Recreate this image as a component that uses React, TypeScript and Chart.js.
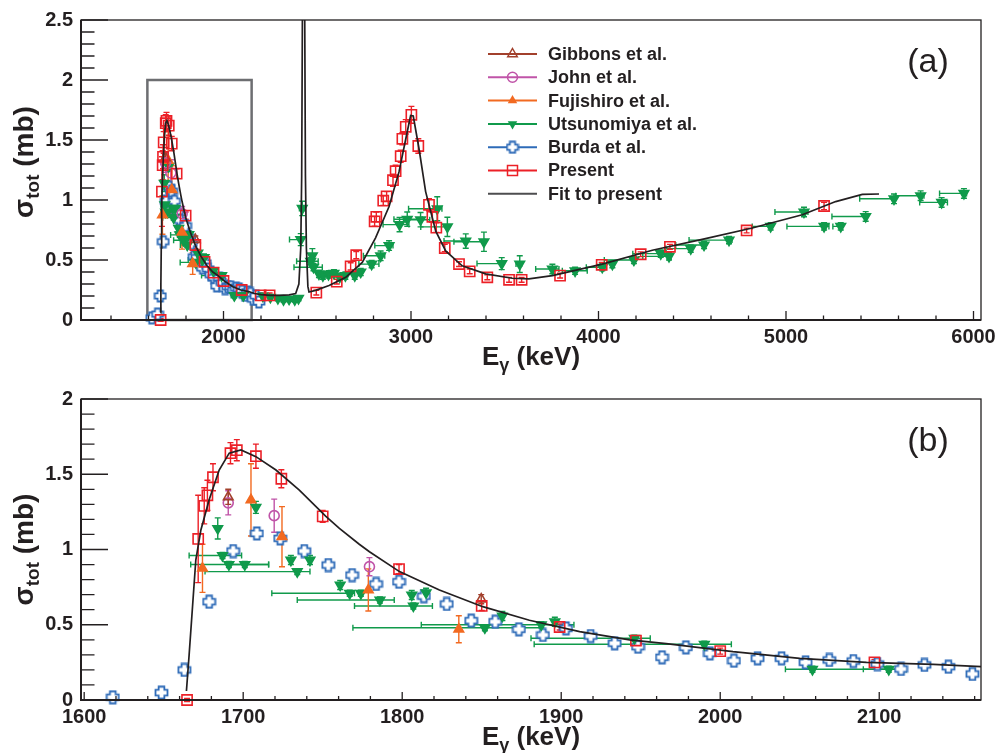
import React, { useEffect, useRef } from 'react';
import { Chart, registerables } from 'chart.js';

Chart.register(...registerables);

const FONT = '"Liberation Sans", Helvetica, Arial, sans-serif';
const INK = '#231f20';
const W = 1002;
const PLOT_LEFT = 81;
const PLOT_RIGHT = 981;

// ---------------- data (E in keV, sigma in mb) ----------------
const fitE = [1664.3, 1666, 1668, 1670.2, 1673.4, 1678.6, 1684.9, 1691.2, 1698.6, 1708, 1720.6, 1735.3, 1752, 1760.5, 1773, 1779.4, 1798.3, 1823.4, 1850.7, 1880, 1911.6, 1943, 1966, 2008, 2050, 2092, 2134, 2165, 2200, 2250, 2300, 2350, 2385, 2402, 2412, 2417, 2421, 2427, 2433, 2437, 2442, 2450, 2456, 2491, 2563, 2652, 2740, 2811, 2883, 2936, 2972, 2998, 3012, 3043, 3078, 3132, 3185, 3273, 3398, 3540, 3629, 3754, 4020, 4287, 4553, 4820, 5087, 5265, 5407, 5496];
const fitS = [0.06, 0.3, 0.6, 0.93, 1.13, 1.33, 1.528, 1.64, 1.661, 1.617, 1.528, 1.395, 1.22, 1.14, 1.035, 0.985, 0.853, 0.731, 0.62, 0.53, 0.454, 0.4, 0.375, 0.321, 0.277, 0.25, 0.237, 0.221, 0.212, 0.205, 0.205, 0.21, 0.22, 0.3, 0.6, 1.2, 2.6, 12, 2.6, 1.2, 0.6, 0.28, 0.233, 0.247, 0.288, 0.356, 0.48, 0.685, 0.946, 1.234, 1.508, 1.705, 1.7, 1.425, 1.07, 0.74, 0.576, 0.452, 0.384, 0.348, 0.343, 0.37, 0.466, 0.581, 0.672, 0.767, 0.877, 0.987, 1.047, 1.05];

const presentE = [1664.7, 1671.7, 1675.5, 1677.5, 1681, 1692, 1696, 1708, 1724, 1750, 1798, 1850, 1899, 1947, 2000, 2097, 2198, 2246, 2495, 2604, 2678, 2708, 2806, 2815, 2852, 2870, 2904, 2918, 2945, 2954, 2972, 3002, 3039, 3096, 3114, 3135, 3180, 3256, 3313, 3407, 3523, 3590, 3795, 4017, 4225, 4381, 4790, 5203];
const presentS = [0.0, 1.07, 1.29, 1.36, 1.48, 1.64, 1.66, 1.62, 1.47, 1.22, 0.87, 0.625, 0.485, 0.395, 0.325, 0.25, 0.205, 0.205, 0.228, 0.32, 0.447, 0.54, 0.822, 0.86, 0.995, 1.03, 1.165, 1.24, 1.365, 1.51, 1.61, 1.71, 1.45, 0.96, 0.86, 0.77, 0.6, 0.466, 0.405, 0.356, 0.335, 0.335, 0.37, 0.46, 0.548, 0.61, 0.746, 0.95];
const presentErr = [0.01, 0.29, 0.12, 0.1, 0.09, 0.07, 0.07, 0.08, 0.06, 0.04, 0.03, 0.03, 0.02, 0.02, 0.02, 0.02, 0.02, 0.02, 0.02, 0.02, 0.03, 0.03, 0.04, 0.04, 0.04, 0.04, 0.05, 0.05, 0.05, 0.05, 0.06, 0.07, 0.06, 0.05, 0.04, 0.04, 0.03, 0.02, 0.02, 0.02, 0.02, 0.02, 0.02, 0.02, 0.02, 0.02, 0.02, 0.03];

const gibbonsE = [1690.6, 1849.7];
const gibbonsS = [1.35, 0.67];
const gibbonsErr = [0.05, 0.03];

const johnE = [1690.6, 1719.5, 1779.4];
const johnS = [1.31, 1.225, 0.886];
const johnErr = [0.08, 0.11, 0.06];

const fujishiroE = [1674.4, 1704.9, 1724.4, 1778.7, 1835.6];
const fujishiroS = [0.875, 1.33, 1.085, 0.731, 0.47];
const fujishiroErr = [0.16, 0.24, 0.2, 0.14, 0.09];

const utsuE = [1684, 1708, 1687, 1691, 1701, 1734, 1730, 1742, 1761, 1767, 1774, 1786, 1807, 1806, 1815, 1863, 1887.5, 1852, 1896, 1946, 1990, 2058, 2106, 2210, 2250, 2290, 2320, 2350, 2380, 2400, 2420, 2412, 2474, 2465, 2480, 2509, 2530, 2560, 2589, 2620, 2650, 2700, 2732, 2790, 2838, 2883, 2939, 2980, 3051, 3140, 3194, 3292, 3389, 3484, 3580, 3754, 3875, 4020, 4074, 4189, 4332, 4376, 4492, 4563, 4696, 4918, 5096, 5203, 5292, 5425, 5576, 5718, 5830, 5949];
const utsuS = [1.14, 1.28, 0.96, 0.9, 0.9, 0.853, 0.93, 0.93, 0.764, 0.709, 0.709, 0.664, 0.625, 0.698, 0.713, 0.558, 0.5, 0.48, 0.52, 0.41, 0.37, 0.204, 0.204, 0.2, 0.19, 0.18, 0.17, 0.175, 0.17, 0.18, 0.93, 0.67, 0.535, 0.49, 0.44, 0.384, 0.37, 0.38, 0.39, 0.36, 0.37, 0.37, 0.4, 0.466, 0.535, 0.62, 0.795, 0.84, 0.836, 0.927, 0.776, 0.658, 0.652, 0.47, 0.466, 0.425, 0.41, 0.44, 0.466, 0.5, 0.553, 0.53, 0.595, 0.625, 0.666, 0.78, 0.9, 0.78, 0.78, 0.863, 1.01, 1.036, 0.98, 1.055];
const utsuErr = [0.07, 0.04, 0.02, 0.02, 0.02, 0.02, 0.03, 0.03, 0.03, 0.02, 0.02, 0.02, 0.02, 0.03, 0.03, 0.03, 0.02, 0.02, 0.03, 0.02, 0.02, 0.02, 0.02, 0.02, 0.02, 0.02, 0.02, 0.02, 0.02, 0.02, 0.06, 0.05, 0.06, 0.03, 0.03, 0.03, 0.03, 0.03, 0.03, 0.03, 0.03, 0.03, 0.03, 0.03, 0.04, 0.04, 0.06, 0.06, 0.06, 0.1, 0.08, 0.06, 0.08, 0.05, 0.07, 0.04, 0.03, 0.03, 0.03, 0.03, 0.03, 0.03, 0.03, 0.03, 0.03, 0.03, 0.04, 0.03, 0.03, 0.04, 0.04, 0.04, 0.04, 0.04];
const utsuLo = [1684, 1708, 1666, 1667, 1690, 1676, 1730, 1742, 1761, 1718, 1774, 1734, 1770, 1806, 1815, 1863, 1812, 1769, 1896, 1881, 1883, 2041, 2090, 2210, 2250, 2290, 2320, 2350, 2380, 2400, 2405, 2352, 2474, 2390, 2376, 2509, 2530, 2560, 2589, 2620, 2650, 2700, 2690, 2722, 2746, 2807, 2851, 2909, 2960, 2987, 3052, 3176, 3229, 3352, 3560, 3665, 3807, 3935, 4074, 4031, 4183, 4236, 4359, 4412, 4483, 4820, 4941, 5005, 5250, 5245, 5393, 5585, 5713, 5819];
const utsuHi = [1684, 1708, 1699, 1716, 1716, 1742, 1730, 1742, 1761, 1770, 1774, 1795, 1819, 1806, 1815, 1863, 1908, 1888, 1896, 1956, 2007, 2117, 2117, 2210, 2250, 2290, 2320, 2350, 2380, 2400, 2430, 2420, 2474, 2505, 2527, 2509, 2530, 2560, 2589, 2620, 2650, 2700, 2740, 2829, 2860, 2904, 2989, 3060, 3100, 3165, 3194, 3300, 3395, 3487, 3590, 3789, 3940, 4040, 4074, 4191, 4351, 4387, 4492, 4572, 4712, 4920, 5117, 5229, 5300, 5425, 5580, 5736, 5861, 5963];

const burdaE = [1618, 1648.6, 1663, 1678.6, 1693.7, 1708.6, 1723.3, 1738.4, 1753.5, 1768.5, 1783.6, 1798, 1813.6, 1828, 1843.4, 1858.5, 1873.4, 1888.5, 1903, 1918.5, 1933.6, 1948.3, 1963.4, 1978.4, 1993.5, 2008.6, 2023.5, 2038.6, 2053.7, 2068.6, 2083.7, 2098.8, 2113.7, 2128.4, 2143.5, 2158.6, 2173.7, 2188.8];
const burdaS = [0.018, 0.049, 0.2, 0.653, 0.99, 1.107, 1.074, 0.99, 0.897, 0.83, 0.771, 0.786, 0.69, 0.638, 0.527, 0.52, 0.47, 0.432, 0.476, 0.425, 0.377, 0.354, 0.284, 0.35, 0.31, 0.261, 0.277, 0.277, 0.25, 0.266, 0.259, 0.239, 0.206, 0.233, 0.221, 0.173, 0.2, 0.15];
const burdaErr = [0.02, 0.02, 0.02, 0.02, 0.03, 0.03, 0.03, 0.03, 0.02, 0.02, 0.02, 0.02, 0.02, 0.02, 0.02, 0.02, 0.02, 0.02, 0.02, 0.02, 0.02, 0.02, 0.02, 0.02, 0.02, 0.02, 0.02, 0.02, 0.02, 0.02, 0.02, 0.02, 0.02, 0.02, 0.02, 0.02, 0.02, 0.02];

const legendLabels = ['Gibbons et al.', 'John et al.', 'Fujishiro et al.', 'Utsunomiya et al.', 'Burda et al.', 'Present', 'Fit to present'];

const xTicksA = [2000, 3000, 4000, 5000, 6000];
const yTicksA = [0, 0.5, 1, 1.5, 2, 2.5];
const xTicksB = [1600, 1700, 1800, 1900, 2000, 2100];
const yTicksB = [0, 0.5, 1, 1.5, 2];
const zoomBoxE = [1594, 2150];
const zoomBoxS = [0, 2];

// ---------------- styles ----------------
const C_GIB = '#a2402c';
const C_JOHN = '#c054a8';
const C_FUJ = '#f26a21';
const C_UTS = '#109a4b';
const C_BUR = '#2e6bb8';
const C_PRE = '#ec2027';
const C_FIT = '#231f20';

interface Spec {
  height: number; top: number; bottom: number;
  xMin: number; xMax: number; yMin: number; yMax: number;
  xTicks: number[]; yTicks: number[];
  xMinor: number; xMajor: number; yMinor: number; yMajor: number;
  xTickLen: number; yTickLen: number;
  tag: string; tagY: number; legend: boolean; box: boolean; crossSize: number; yTitleShift: number;
}

const specA: Spec = {
  height: 375, top: 16, bottom: 320, xMin: 1240, xMax: 6040, yMin: 0, yMax: 2.5,
  xTicks: xTicksA, yTicks: yTicksA, xMinor: 200, xMajor: 1000, yMinor: 0.1, yMajor: 0.5,
  xTickLen: 9, yTickLen: 27, tag: '(a)', tagY: 63, legend: true, box: true, crossSize: 12, yTitleShift: -8,
};
const specB: Spec = {
  height: 378, top: 24, bottom: 325, xMin: 1598, xMax: 2164, yMin: 0, yMax: 2,
  xTicks: xTicksB, yTicks: yTicksB, xMinor: 20, xMajor: 100, yMinor: 0.1, yMajor: 0.5,
  xTickLen: 8, yTickLen: 27, tag: '(b)', tagY: 67, legend: false, box: false, crossSize: 13, yTitleShift: 0,
};

function makeCross(size: number, color: string): HTMLCanvasElement {
  const c = document.createElement('canvas');
  c.width = size + 2; c.height = size + 2;
  const g = c.getContext('2d')!;
  const m = (size + 2) / 2, L = size / 2 - 0.5, a = size * 0.22;
  g.beginPath();
  g.moveTo(m - a, m - L); g.lineTo(m + a, m - L); g.lineTo(m + a, m - a); g.lineTo(m + L, m - a);
  g.lineTo(m + L, m + a); g.lineTo(m + a, m + a); g.lineTo(m + a, m + L); g.lineTo(m - a, m + L);
  g.lineTo(m - a, m + a); g.lineTo(m - L, m + a); g.lineTo(m - L, m - a); g.lineTo(m - a, m - a);
  g.closePath();
  g.fillStyle = '#ffffff'; g.fill();
  g.strokeStyle = color; g.lineWidth = 1.8; g.stroke();
  return c;
}

const pts = (E: number[], S: number[]) => E.map((e, i) => ({ x: e, y: S[i] }));

type ErrSet = { E: number[]; S: number[]; err: number[]; lo?: number[]; hi?: number[]; color: string };
const errSets: ErrSet[] = [
  { E: burdaE, S: burdaS, err: burdaErr, color: C_BUR },
  { E: utsuE, S: utsuS, err: utsuErr, lo: utsuLo, hi: utsuHi, color: C_UTS },
  { E: fujishiroE, S: fujishiroS, err: fujishiroErr, color: C_FUJ },
  { E: johnE, S: johnS, err: johnErr, color: C_JOHN },
  { E: gibbonsE, S: gibbonsS, err: gibbonsErr, color: C_GIB },
  { E: presentE, S: presentS, err: presentErr, color: C_PRE },
];

function drawMarker(ctx: CanvasRenderingContext2D, kind: string, x: number, y: number, color: string, cross: HTMLCanvasElement) {
  ctx.save();
  ctx.strokeStyle = color; ctx.fillStyle = color; ctx.lineWidth = 1.5;
  const r = 5.5;
  if (kind === 'square') { ctx.strokeRect(x - 5, y - 5, 10, 10); }
  else if (kind === 'circle') { ctx.beginPath(); ctx.arc(x, y, 5, 0, Math.PI * 2); ctx.stroke(); }
  else if (kind === 'triOpen' || kind === 'triUp') {
    ctx.beginPath(); ctx.moveTo(x, y - r); ctx.lineTo(x + r * 0.866, y + r / 2); ctx.lineTo(x - r * 0.866, y + r / 2); ctx.closePath();
    if (kind === 'triUp') ctx.fill(); else ctx.stroke();
  } else if (kind === 'triDown') {
    ctx.beginPath(); ctx.moveTo(x, y + r); ctx.lineTo(x + r * 0.866, y - r / 2); ctx.lineTo(x - r * 0.866, y - r / 2); ctx.closePath(); ctx.fill();
  } else if (kind === 'cross') {
    ctx.drawImage(cross, x - cross.width / 2, y - cross.height / 2);
  }
  ctx.restore();
}

function drawSub(ctx: CanvasRenderingContext2D, parts: [string, number, number][], cx: number, by: number) {
  let total = 0;
  const widths = parts.map(([t, s]) => { ctx.font = `bold ${s}px ${FONT}`; const w = ctx.measureText(t).width; total += w; return w; });
  let x = cx - total / 2;
  ctx.textAlign = 'left'; ctx.textBaseline = 'alphabetic';
  parts.forEach(([t, s, dy], i) => { ctx.font = `bold ${s}px ${FONT}`; ctx.fillText(t, x, by + dy); x += widths[i]; });
}

function makePlugin(spec: Spec, cross: HTMLCanvasElement) {
  return {
    id: 'decor' + spec.tag,
    beforeDatasetsDraw(chart: any) {
      const { ctx, chartArea: ca, scales: { x, y } } = chart;
      ctx.save();
      if (spec.box) {
        ctx.strokeStyle = '#6d6e71'; ctx.lineWidth = 2.5;
        const x1 = x.getPixelForValue(zoomBoxE[0]), x2 = x.getPixelForValue(zoomBoxE[1]);
        const y1 = y.getPixelForValue(zoomBoxS[1]), y2 = y.getPixelForValue(zoomBoxS[0]);
        ctx.strokeRect(x1, y1, x2 - x1, y2 - y1);
      }
      ctx.beginPath(); ctx.rect(ca.left - 10, ca.top - 10, ca.right - ca.left + 14, ca.bottom - ca.top + 20); ctx.clip();
      ctx.lineWidth = 1.4;
      for (const s of errSets) {
        ctx.strokeStyle = s.color;
        s.E.forEach((e, i) => {
          if (e < x.min || e > x.max) return;
          const px = x.getPixelForValue(e), py = y.getPixelForValue(s.S[i]);
          const er = s.err[i];
          ctx.beginPath();
          if (er > 0) {
            const y1 = y.getPixelForValue(s.S[i] + er), y2 = y.getPixelForValue(s.S[i] - er);
            ctx.moveTo(px, y1); ctx.lineTo(px, y2);
            ctx.moveTo(px - 3, y1); ctx.lineTo(px + 3, y1);
            ctx.moveTo(px - 3, y2); ctx.lineTo(px + 3, y2);
          }
          if (s.lo && s.hi && s.hi[i] > s.lo[i]) {
            const x1 = x.getPixelForValue(s.lo[i]), x2 = x.getPixelForValue(s.hi[i]);
            ctx.moveTo(x1, py); ctx.lineTo(x2, py);
            ctx.moveTo(x1, py - 3); ctx.lineTo(x1, py + 3);
            ctx.moveTo(x2, py - 3); ctx.lineTo(x2, py + 3);
          }
          ctx.stroke();
        });
      }
      ctx.restore();
    },
    afterDraw(chart: any) {
      const { ctx, chartArea: ca, scales: { x, y } } = chart;
      ctx.save();
      ctx.strokeStyle = INK; ctx.fillStyle = INK;
      ctx.lineWidth = 1.3;
      ctx.strokeRect(ca.left, ca.top, ca.right - ca.left, ca.bottom - ca.top);
      ctx.lineWidth = 2;
      ctx.beginPath(); ctx.moveTo(ca.left, ca.top); ctx.lineTo(ca.left, ca.bottom); ctx.lineTo(ca.right, ca.bottom); ctx.stroke();
      ctx.lineWidth = 1.3;
      ctx.beginPath();
      for (let k = Math.ceil(spec.xMin / spec.xMinor); k * spec.xMinor <= spec.xMax; k++) {
        const v = k * spec.xMinor;
        const major = Math.abs(v / spec.xMajor - Math.round(v / spec.xMajor)) < 1e-6;
        const px = x.getPixelForValue(v);
        ctx.moveTo(px, ca.bottom); ctx.lineTo(px, ca.bottom - (major ? spec.xTickLen : spec.xTickLen / 2));
      }
      for (let k = Math.ceil(spec.yMin / spec.yMinor - 1e-6); k * spec.yMinor <= spec.yMax + 1e-6; k++) {
        const v = k * spec.yMinor;
        const major = Math.abs(v / spec.yMajor - Math.round(v / spec.yMajor)) < 1e-6;
        const py = y.getPixelForValue(v);
        ctx.moveTo(ca.left, py); ctx.lineTo(ca.left + (major ? spec.yTickLen : spec.yTickLen / 2), py);
      }
      ctx.stroke();
      const cxT = (ca.left + ca.right) / 2;
      drawSub(ctx, [['E', 26, 0], ['γ', 18, 6], [' (keV)', 26, 0]], cxT, ca.bottom + 45);
      ctx.save();
      ctx.translate(33, (ca.top + ca.bottom) / 2 + spec.yTitleShift);
      ctx.rotate(-Math.PI / 2);
      drawSub(ctx, [['σ', 28, 0], ['tot', 19, 6], [' (mb)', 28, 0]], 0, 0);
      ctx.restore();
      ctx.font = `34px ${FONT}`; ctx.textAlign = 'center'; ctx.textBaseline = 'middle';
      ctx.fillText(spec.tag, 928, spec.tagY);
      if (spec.legend) {
        const kinds = ['triOpen', 'circle', 'triUp', 'triDown', 'cross', 'square', 'none'];
        const cols = [C_GIB, C_JOHN, C_FUJ, C_UTS, C_BUR, C_PRE, '#4d4d4f'];
        legendLabels.forEach((lab, i) => {
          const yy = 54 + i * 23.3;
          ctx.strokeStyle = cols[i]; ctx.lineWidth = 2;
          ctx.beginPath(); ctx.moveTo(488, yy); ctx.lineTo(537, yy); ctx.stroke();
          if (kinds[i] !== 'none') drawMarker(ctx, kinds[i], 512.5, yy, cols[i], cross);
          ctx.fillStyle = INK; ctx.font = `bold 18px ${FONT}`; ctx.textAlign = 'left'; ctx.textBaseline = 'middle';
          ctx.fillText(lab, 548, yy + 1);
        });
      }
      ctx.restore();
    },
  };
}

function buildConfig(spec: Spec, cross: HTMLCanvasElement): any {
  const clip = { left: 10, top: 10, right: 6, bottom: 10 };
  const mk = (label: string, E: number[], S: number[], style: any, color: string, fill: string, r: number, rot = 0) => ({
    label, data: pts(E, S), showLine: false, pointStyle: style, pointRadius: r, pointBorderColor: color,
    pointBackgroundColor: fill, pointBorderWidth: 1.6, pointRotation: rot, clip,
  });
  const tickFont = { family: FONT, size: 20, weight: 'bold' as const };
  return {
    type: 'scatter',
    data: {
      datasets: [
        { label: 'Fit to present', data: pts(fitE, fitS), showLine: true, borderColor: C_FIT, borderWidth: 1.7, pointRadius: 0, tension: 0, fill: false },
        mk('Present', presentE, presentS, 'rect', C_PRE, 'rgba(0,0,0,0)', 7.2),
        mk('Gibbons et al.', gibbonsE, gibbonsS, 'triangle', C_GIB, 'rgba(0,0,0,0)', 5.5),
        mk('John et al.', johnE, johnS, 'circle', C_JOHN, 'rgba(0,0,0,0)', 5),
        mk('Fujishiro et al.', fujishiroE, fujishiroS, 'triangle', C_FUJ, C_FUJ, 5.5),
        mk('Utsunomiya et al.', utsuE, utsuS, 'triangle', C_UTS, C_UTS, 5.5, 180),
        mk('Burda et al.', burdaE, burdaS, cross, C_BUR, C_BUR, 6),
      ],
    },
    options: {
      animation: false, responsive: false, maintainAspectRatio: false, devicePixelRatio: 1, events: [],
      layout: { padding: { top: spec.top, right: W - PLOT_RIGHT, left: 0, bottom: 0 } },
      plugins: { legend: { display: false }, tooltip: { enabled: false } },
      scales: {
        x: {
          type: 'linear', min: spec.xMin, max: spec.xMax, bounds: 'data',
          grid: { display: false, drawTicks: false }, border: { display: false },
          afterFit: (s: any) => { s.height = spec.height - spec.bottom; },
          afterBuildTicks: (s: any) => { s.ticks = spec.xTicks.map((v) => ({ value: v })); },
          ticks: { font: tickFont, color: INK, padding: 5, maxRotation: 0, autoSkip: false, callback: (v: any) => String(v) },
        },
        y: {
          type: 'linear', min: spec.yMin, max: spec.yMax, bounds: 'data',
          grid: { display: false, drawTicks: false }, border: { display: false },
          afterFit: (s: any) => { s.width = PLOT_LEFT; },
          afterBuildTicks: (s: any) => { s.ticks = spec.yTicks.map((v) => ({ value: v })); },
          ticks: { font: tickFont, color: INK, padding: 8, autoSkip: false, callback: (v: any) => String(v) },
        },
      },
    },
    plugins: [makePlugin(spec, cross)],
  };
}

function Panel({ spec, top }: { spec: Spec; top: number }) {
  const ref = useRef<HTMLCanvasElement>(null);
  useEffect(() => {
    const cross = makeCross(spec.crossSize, C_BUR);
    const chart = new Chart(ref.current!, buildConfig(spec, cross));
    return () => chart.destroy();
  }, [spec]);
  return (
    <canvas ref={ref} width={W} height={spec.height}
      style={{ position: 'absolute', left: 0, top, width: W, height: spec.height, display: 'block' }} />
  );
}

export default function App() {
  return (
    <div style={{ position: 'fixed', left: 0, top: 0, width: W, height: 753, background: '#ffffff', overflow: 'hidden' }}>
      <Panel spec={specA} top={0} />
      <Panel spec={specB} top={375} />
    </div>
  );
}
